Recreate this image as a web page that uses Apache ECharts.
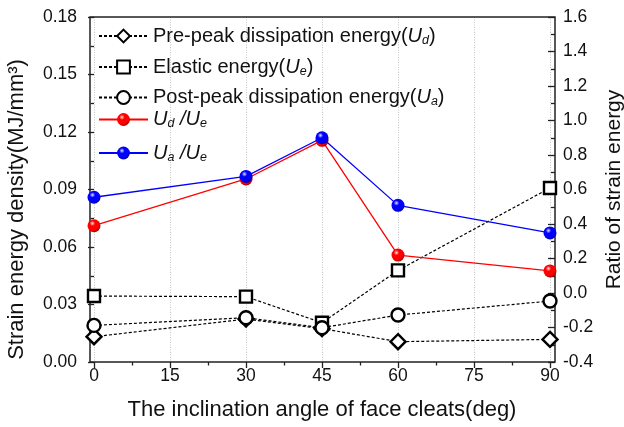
<!DOCTYPE html>
<html>
<head>
<meta charset="utf-8">
<script src="https://cdn.jsdelivr.net/npm/echarts@6/dist/echarts.min.js"></script>
<style>
html,body{margin:0;padding:0;background:#fff;}
#chart{width:624px;height:427px;}
</style>
</head>
<body>
<div id="chart"></div>
<script>
// ---- data ----
const angles = [0, 30, 45, 60, 90];
const prePeakUd = [0.0132, 0.0224, 0.0174, 0.0106, 0.0118];
const elasticUe = [0.0344, 0.0341, 0.0205, 0.0478, 0.0908];
const postPeakUa = [0.0191, 0.0231, 0.0179, 0.0245, 0.0318];
const ratioUdUe = [0.390, 0.661, 0.885, 0.220, 0.128];
const ratioUaUe = [0.555, 0.676, 0.900, 0.508, 0.348];

const xRange = [0, 90, 15];
const leftRange = [0, 0.18, 0.03];
const rightRange = [-0.4, 1.6, 0.2];

const seriesNames = [
  'Pre-peak dissipation energy(Ud)',
  'Elastic energy(Ue)',
  'Post-peak dissipation energy(Ua)',
  'Ud/Ue',
  'Ua/Ue'
];
const legendTexts = [
  '{n|Pre-peak dissipation energy(}{i|U}{s|d}{n|)}',
  '{n|Elastic energy(}{i|U}{s|e}{n|)}',
  '{n|Post-peak dissipation energy(}{i|U}{s|a}{n|)}',
  '{i|U}{s|d}{i| /U}{s|e}',
  '{i|U}{s|a}{i| /U}{s|e}'
];

const FONT = 'Liberation Sans';
const pair = (xs, ys) => xs.map((x, i) => [x, ys[i]]);

function sphere(light, mid, dark) {
  return {
    type: 'radial', x: 0.38, y: 0.32, r: 0.7,
    colorStops: [
      {offset: 0, color: light},
      {offset: 0.3, color: mid},
      {offset: 0.75, color: mid},
      {offset: 1, color: dark}
    ]
  };
}

const richLegend = {
  n: {fontSize: 20, fontFamily: FONT, color: '#111', lineHeight: 22},
  i: {fontSize: 20, fontFamily: FONT, color: '#111', fontStyle: 'italic', lineHeight: 22},
  s: {fontSize: 12.5, fontFamily: FONT, color: '#111', fontStyle: 'italic', lineHeight: 4, verticalAlign: 'bottom'}
};

const legendTops = [21, 52, 82.5, 104.5, 138];
const legends = seriesNames.map((nm, k) => ({
  data: [nm],
  left: 93,
  top: legendTops[k],
  orient: 'vertical',
  itemWidth: 49,
  itemHeight: 16,
  itemGap: 0,
  selectedMode: false,
  formatter: () => legendTexts[k],
  textStyle: {fontSize: 20, fontFamily: FONT, color: '#111', rich: richLegend}
}));

const blackLine = {color: '#000', width: 1.2, type: [3, 2]};
const blackItem = {color: '#fff', borderColor: '#000', borderWidth: 2.4};
const tickStyle = {color: '#222', width: 1.3};

const option = {
  animation: false,
  backgroundColor: '#fff',
  legend: legends,
  grid: [
    {left: 94, right: 74, top: 17, bottom: 65, show: false, outerBoundsMode: 'none', containLabel: false},
    {left: 90, right: 69, top: 17, bottom: 65, show: true, borderColor: '#222', borderWidth: 1.5, backgroundColor: 'transparent', z: 1, outerBoundsMode: 'none', containLabel: false}
  ],
  xAxis: [
    {
      type: 'value', gridIndex: 0,
      min: xRange[0], max: xRange[1], interval: xRange[2],
      name: 'The inclination angle of face cleats(deg)',
      nameLocation: 'middle', nameGap: 37,
      nameTextStyle: {fontSize: 22, fontFamily: FONT, color: '#111'},
      axisLine: {show: false},
      axisTick: {show: true, inside: false, length: 6, lineStyle: tickStyle},
      minorTick: {show: true, splitNumber: 2, length: 3.5, lineStyle: tickStyle},
      axisLabel: {fontSize: 17.5, fontFamily: FONT, color: '#111', margin: 5},
      splitLine: {show: true, lineStyle: {color: '#c4c4c4', type: [1, 1.5], width: 1}}
    },
    {type: 'value', gridIndex: 1, show: false, min: 0, max: 1}
  ],
  yAxis: [
    {
      type: 'value', gridIndex: 0, position: 'left', offset: 4,
      min: leftRange[0], max: leftRange[1], interval: leftRange[2],
      name: 'Strain energy density(MJ/mm³)',
      nameLocation: 'middle', nameGap: 62,
      nameTextStyle: {fontSize: 22, fontFamily: FONT, color: '#111', padding: [0, 40, 0, 0]},
      axisLine: {show: false},
      axisTick: {show: true, inside: false, length: 6, lineStyle: tickStyle},
      minorTick: {show: true, splitNumber: 2, length: 3.5, lineStyle: tickStyle},
      axisLabel: {fontSize: 17.5, fontFamily: FONT, color: '#111', margin: 13, formatter: v => v.toFixed(2)},
      splitLine: {show: false}
    },
    {
      type: 'value', gridIndex: 0, position: 'right', offset: 5,
      min: rightRange[0], max: rightRange[1], interval: rightRange[2],
      name: 'Ratio of strain energy',
      nameLocation: 'middle', nameGap: 48,
      nameTextStyle: {fontSize: 21, fontFamily: FONT, color: '#111'},
      axisLine: {show: false},
      axisTick: {show: true, inside: true, length: 7, lineStyle: tickStyle},
      minorTick: {show: true, splitNumber: 2, length: 4, lineStyle: tickStyle},
      axisLabel: {fontSize: 17.5, fontFamily: FONT, color: '#111', margin: 8, formatter: v => v.toFixed(1)},
      splitLine: {show: false}
    },
    {type: 'value', gridIndex: 1, show: false, min: 0, max: 1}
  ],
  series: [
    {
      name: seriesNames[0], type: 'line', xAxisIndex: 0, yAxisIndex: 0,
      data: pair(angles, prePeakUd), symbol: 'diamond', symbolSize: 15,
      itemStyle: blackItem, lineStyle: blackLine, z: 3
    },
    {
      name: seriesNames[1], type: 'line', xAxisIndex: 0, yAxisIndex: 0,
      data: pair(angles, elasticUe), symbol: 'rect', symbolSize: 12,
      itemStyle: blackItem, lineStyle: blackLine, z: 3
    },
    {
      name: seriesNames[2], type: 'line', xAxisIndex: 0, yAxisIndex: 0,
      data: pair(angles, postPeakUa), symbol: 'circle', symbolSize: 13,
      itemStyle: blackItem, lineStyle: blackLine, z: 3
    },
    {
      name: seriesNames[3], type: 'line', xAxisIndex: 0, yAxisIndex: 1,
      data: pair(angles, ratioUdUe), symbol: 'circle', symbolSize: 13,
      itemStyle: {color: sphere('#ffe0e0', '#ff0000', '#a00000')},
      lineStyle: {color: '#ff0000', width: 1.3}, z: 4
    },
    {
      name: seriesNames[4], type: 'line', xAxisIndex: 0, yAxisIndex: 1,
      data: pair(angles, ratioUaUe), symbol: 'circle', symbolSize: 13,
      itemStyle: {color: sphere('#e0e0ff', '#0000ff', '#00009a')},
      lineStyle: {color: '#0000ff', width: 1.3}, z: 5
    }
  ]
};

const chart = echarts.init(document.getElementById('chart'), null, {renderer: 'canvas'});
chart.setOption(option);
</script>
</body>
</html>
